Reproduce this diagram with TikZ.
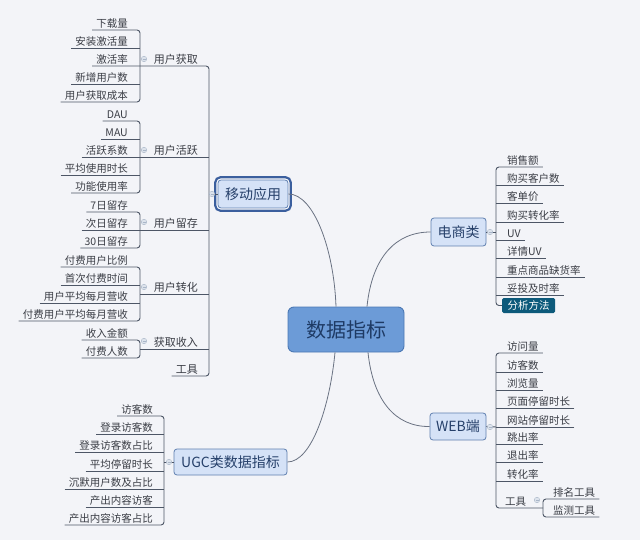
\documentclass[tikz,border=0pt]{standalone}
\usepackage{fontspec}
\setmainfont{Noto Sans CJK SC}
\definecolor{bgc}{HTML}{F3F4F8}
\definecolor{lnc}{HTML}{4D5666}
\definecolor{txtc}{HTML}{3A3D45}
\definecolor{mainfill}{HTML}{D5E2F7}
\definecolor{mainborder}{HTML}{5F7FB0}
\definecolor{maintext}{HTML}{26406A}
\definecolor{cfill}{HTML}{6C9BD7}
\definecolor{cborder}{HTML}{4A78B4}
\definecolor{ctext}{HTML}{1E3A64}
\definecolor{selblue}{HTML}{3B5F9E}
\definecolor{anfill}{HTML}{0D5A7B}
\definecolor{curvec}{HTML}{6A7282}
\definecolor{markc}{HTML}{A9B6C8}
\definecolor{markf}{HTML}{DDE3EC}
\tikzset{
  item/.style={font=\fontsize{10.5}{12}\selectfont, text=txtc, inner xsep=4pt, inner ysep=1.5pt, text height=8.5pt, text depth=1.2pt},
  cat/.style={item, font=\fontsize{11}{13}\selectfont},
  mainnode/.style={draw=mainborder, fill=mainfill, rounded corners=3pt, line width=0.8pt, text=maintext, font=\fontsize{14}{16}\selectfont, inner sep=0pt},
  ln/.style={draw=lnc, line width=0.9pt},
  br/.style={ln, rounded corners=3pt},
  curv/.style={draw=curvec, line width=0.8pt},
  colmark/.style={circle, draw=markc, fill=markf, line width=0.4pt, minimum size=5.5pt, inner sep=0pt,
    path picture={\draw[markc, line width=0.5pt] ([xshift=-1.5pt]path picture bounding box.center) -- ([xshift=1.5pt]path picture bounding box.center);}}
}
\begin{document}
\begin{tikzpicture}[x=1pt,y=-1pt]
\fill[bgc] (0,0) rectangle (640,540);
\useasboundingbox (0,0) rectangle (640,540);

% ---------- central and main nodes ----------
\node[draw=cborder, fill=cfill, rounded corners=6pt, line width=0.9pt, minimum width=116pt, minimum height=45pt,
      font=\fontsize{20}{24}\selectfont, text=ctext, inner sep=0pt] (root) at (346,329.5) {数据指标};
\node[mainnode, minimum width=70pt, minimum height=28pt] (mob) at (253,194) {移动应用};
\draw[white, line width=1.4pt, rounded corners=4pt] ([xshift=-1.1pt,yshift=1.1pt]mob.north west) rectangle ([xshift=1.1pt,yshift=-1.1pt]mob.south east);
\draw[selblue, line width=2.2pt, rounded corners=5pt] ([xshift=-2.3pt,yshift=2.3pt]mob.north west) rectangle ([xshift=2.3pt,yshift=-2.3pt]mob.south east);
\node[mainnode, minimum width=55pt, minimum height=28pt] (ec) at (458.5,232) {电商类};
\node[mainnode, minimum width=56pt, minimum height=27pt] (web) at (458,426.5) {WEB端};
\node[mainnode, minimum width=113pt, minimum height=26pt] (ugc) at (230.5,462) {UGC类数据指标};

\draw[curv] (mob.east) .. controls (314,194) and (334,250) .. ([xshift=-10pt]root.north);
\draw[curv] ([xshift=21pt]root.north) .. controls (372,258) and (395,232) .. (ec.west);
\draw[curv] ([xshift=22pt]root.south) .. controls (373,400) and (395,427) .. (web.west);
\draw[curv] ([xshift=-11pt]root.south) .. controls (330,405) and (312,462) .. (ugc.east);

% ---------- mobile tree ----------
\node[item,anchor=south east] (a1) at (132,30) {下载量};
\node[item,anchor=south east] (a2) at (132,48) {安装激活量};
\node[item,anchor=south east] (a3) at (132,66) {激活率};
\node[item,anchor=south east] (a4) at (132,84) {新增用户数};
\node[item,anchor=south east] (a5) at (132,102) {用户获取成本};
\draw[br] (a1.south west) -- (140,30) -- (140,102) -- (a5.south west);
\draw[ln] (a2.south west) -- (140,48);
\draw[ln] (a4.south west) -- (140,84);

\node[item,anchor=south east] (b1) at (132,121) {DAU};
\node[item,anchor=south east] (b2) at (132,139) {MAU};
\node[item,anchor=south east] (b3) at (132,157) {活跃系数};
\node[item,anchor=south east] (b4) at (132,175) {平均使用时长};
\node[item,anchor=south east] (b5) at (132,193) {功能使用率};
\draw[br] (b1.south west) -- (140,121) -- (140,193) -- (b5.south west);
\draw[ln] (b2.south west) -- (140,139);
\draw[ln] (b4.south west) -- (140,175);

\node[item,anchor=south east] (c1) at (132,212) {7日留存};
\node[item,anchor=south east] (c2) at (132,230) {次日留存};
\node[item,anchor=south east] (c3) at (132,248) {30日留存};
\draw[br] (c1.south west) -- (140,212) -- (140,248) -- (c3.south west);

\node[item,anchor=south east] (d1) at (132,267) {付费用户比例};
\node[item,anchor=south east] (d2) at (132,285) {首次付费时间};
\node[item,anchor=south east] (d3) at (132,303) {用户平均每月营收};
\node[item,anchor=south east] (d4) at (132,321) {付费用户平均每月营收};
\draw[br] (d1.south west) -- (140,267) -- (140,321) -- (d4.south west);
\draw[ln] (d2.south west) -- (140,285);
\draw[ln] (d3.south west) -- (140,303);

\node[item,anchor=south east] (f1) at (132,340) {收入金额};
\node[item,anchor=south east] (f2) at (132,358) {付费人数};
\draw[br] (f1.south west) -- (140,340) -- (140,358) -- (f2.south west);

\node[cat,anchor=south east] (ka) at (202,66) {用户获取};
\node[cat,anchor=south east] (kb) at (202,157) {用户活跃};
\node[cat,anchor=south east] (kc) at (202,230) {用户留存};
\node[cat,anchor=south east] (kd) at (202,294) {用户转化};
\node[cat,anchor=south east] (kf) at (202,349) {获取收入};
\node[cat,anchor=south east] (kt) at (202,376) {工具};

\draw[br] (a3.south west) -- (209,66) -- (209,376) -- (kt.south west);
\draw[ln] (b3.south west) -- (209,157);
\draw[ln] (c2.south west) -- (209,230);
\draw[ln] (140,294) -- (209,294);
\draw[ln] (140,349) -- (209,349);
\draw[ln] (mob.west) -- (209,194);

\node[colmark] (m1) at (144,59) {};
\node[colmark] (m2) at (144,150) {};
\node[colmark] (m3) at (144,222) {};
\node[colmark] (m4) at (144,287) {};
\node[colmark] (m5) at (144,341) {};
\node[colmark] (m6) at (212,194) {};

% ---------- e-commerce tree ----------
\node[item,anchor=south west] (e1) at (503,167) {销售额};
\node[item,anchor=south west] (e2) at (503,185) {购买客户数};
\node[item,anchor=south west] (e3) at (503,203) {客单价};
\node[item,anchor=south west] (e4) at (503,222) {购买转化率};
\node[item,anchor=south west] (e5) at (503,240) {UV};
\node[item,anchor=south west] (e6) at (503,258) {详情UV};
\node[item,anchor=south west] (e7) at (503,277) {重点商品缺货率};
\node[item,anchor=south west] (e8) at (503,295) {妥投及时率};
\node[fill=anfill, rounded corners=1.5pt, minimum width=53pt, minimum height=15pt, inner sep=0pt,
      font=\fontsize{10.5}{12}\selectfont, text=white] (an) at (528.5,305.5) {分析方法};
\draw[br] (e1.south east) -- (496,167) -- (496,305.5) -- (an.west);
\draw[ln] (e2.south east) -- (496,185);
\draw[ln] (e3.south east) -- (496,203);
\draw[ln] (e4.south east) -- (496,222);
\draw[ln] (e5.south east) -- (496,240);
\draw[ln] (e6.south east) -- (496,258);
\draw[ln] (e7.south east) -- (496,277);
\draw[ln] (e8.south east) -- (496,295);
\draw[ln] (ec.east) -- (496,232);
\node[colmark] (m7) at (490,232) {};

% ---------- web tree ----------
\node[item,anchor=south west] (w1) at (503,353) {访问量};
\node[item,anchor=south west] (w2) at (503,372) {访客数};
\node[item,anchor=south west] (w3) at (503,390) {浏览量};
\node[item,anchor=south west] (w4) at (503,408) {页面停留时长};
\node[item,anchor=south west] (w5) at (503,427) {网站停留时长};
\node[item,anchor=south west] (w6) at (503,444) {跳出率};
\node[item,anchor=south west] (w7) at (503,462) {退出率};
\node[item,anchor=south west] (w8) at (503,481) {转化率};
\node[item,anchor=south west] (wt) at (501,508) {工具};
\node[item,anchor=south west] (r1) at (549,499) {排名工具};
\node[item,anchor=south west] (r2) at (549,517) {监测工具};
\draw[br] (w1.south east) -- (496,353) -- (496,508) -- (543,508);
\draw[ln] (w2.south east) -- (496,372);
\draw[ln] (w3.south east) -- (496,390);
\draw[ln] (w4.south east) -- (496,408);
\draw[ln] (w5.south east) -- (496,427);
\draw[ln] (w6.south east) -- (496,444);
\draw[ln] (w7.south east) -- (496,462);
\draw[ln] (w8.south east) -- (496,481);
\draw[br] (r1.south east) -- (543,499) -- (543,517) -- (r2.south east);
\draw[ln] (web.east) -- (496,427);
\node[colmark] (m8) at (490,427) {};
\node[colmark] (m9) at (537,500) {};

% ---------- UGC tree ----------
\node[item,anchor=south east] (u1) at (157,416) {访客数};
\node[item,anchor=south east] (u2) at (157,434) {登录访客数};
\node[item,anchor=south east] (u3) at (157,452) {登录访客数占比};
\node[item,anchor=south east] (u4) at (157,471) {平均停留时长};
\node[item,anchor=south east] (u5) at (157,489) {沉默用户数及占比};
\node[item,anchor=south east] (u6) at (157,507) {产出内容访客};
\node[item,anchor=south east] (u7) at (157,525) {产出内容访客占比};
\draw[br] (u1.south west) -- (164,416) -- (164,525) -- (u7.south west);
\draw[ln] (u2.south west) -- (164,434);
\draw[ln] (u3.south west) -- (164,452);
\draw[ln] (u4.south west) -- (164,471);
\draw[ln] (u5.south west) -- (164,489);
\draw[ln] (u6.south west) -- (164,507);
\draw[ln] (ugc.west) -- (164,462);
\node[colmark] (m10) at (169,462) {};
\end{tikzpicture}
\end{document}
